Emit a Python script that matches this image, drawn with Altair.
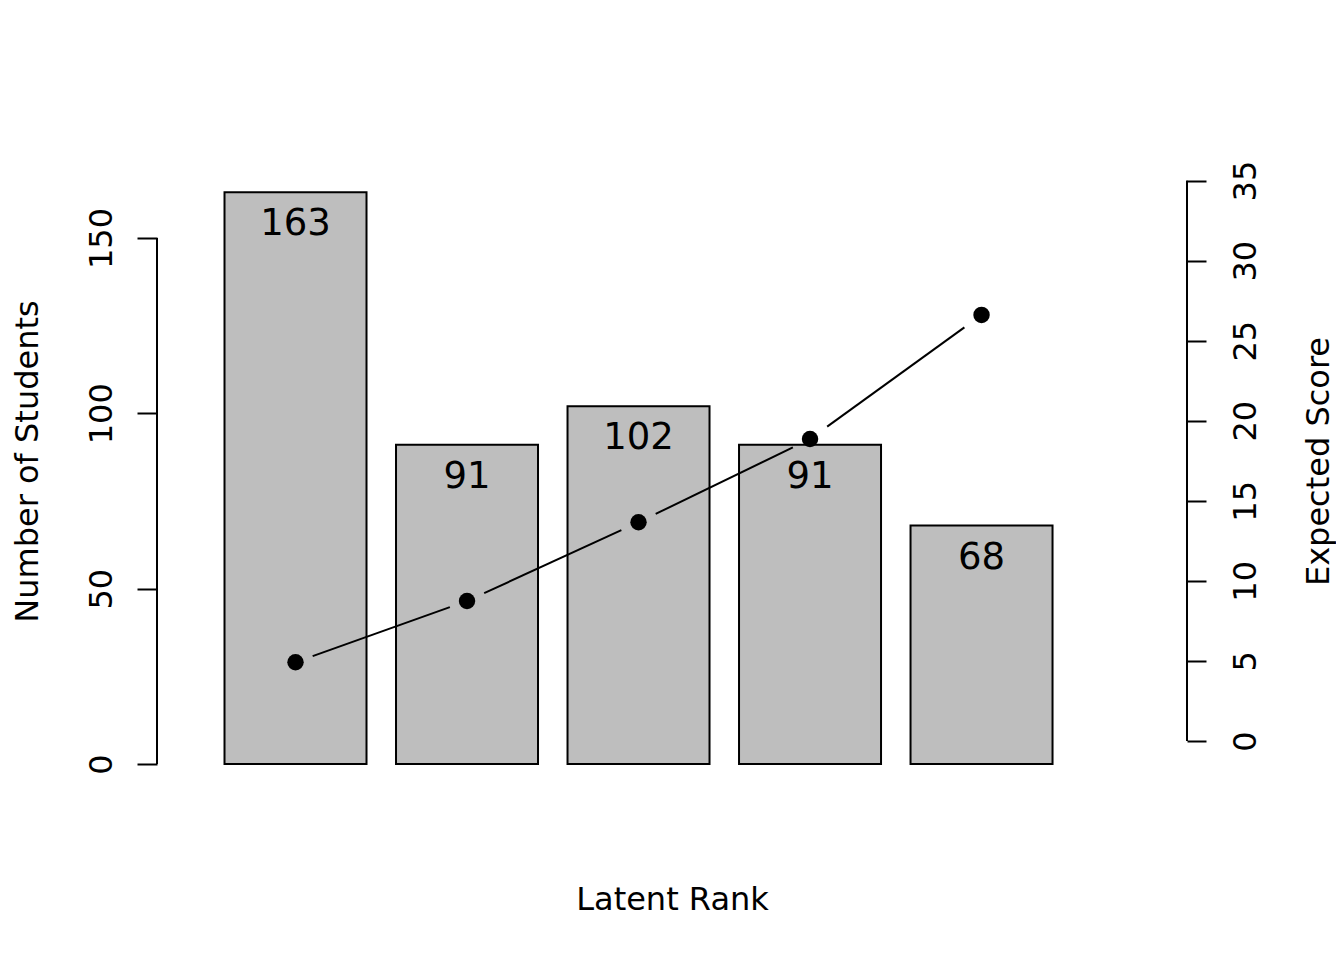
import altair as alt
import pandas as pd

ranks = [1, 2, 3, 4, 5]
students = [163, 91, 102, 91, 68]
expected_score = [4.92, 8.74, 13.66, 18.86, 26.61]
left_ticks = [0, 50, 100, 150]
right_ticks = [0, 5, 10, 15, 20, 25, 30, 35]

df = pd.DataFrame({"rank": ranks, "students": students, "score": expected_score})

FONT = "DejaVu Sans"
W, H = 1030, 606
FS = 32
GAP = 0.1  # fraction of each segment left blank next to a point (R type="b")

xscale = alt.Scale(domain=[0.1924, 6.198], nice=False, zero=False, padding=0)
lscale = alt.Scale(domain=[0, 172.8], nice=False, zero=False)
rscale = alt.Scale(domain=[-1.437, 36.41], nice=False, zero=False)

base = alt.Chart(df)

x_axis = alt.Axis(labels=False, ticks=False, domain=False, grid=False,
                  title="Latent Rank", titleFont=FONT, titleFontSize=FS,
                  titleFontWeight="normal", titleColor="black",
                  titleBaseline="alphabetic", titleY=145, titleX=W / 2,
                  titleAlign="center")

left_axis = alt.Axis(values=left_ticks, domain=False, grid=False, tickSize=20,
                     tickWidth=2, tickColor="black", labelFont=FONT,
                     labelFontSize=FS, labelColor="black", labelAngle=270,
                     labelAlign="center", labelBaseline="alphabetic",
                     labelPadding=26, title="Number of Students",
                     titleFont=FONT, titleFontSize=FS, titleFontWeight="normal",
                     titleColor="black", titleAngle=270, titleAlign="center",
                     titleBaseline="alphabetic", titleX=-120, titleY=H / 2)

right_axis = alt.Axis(orient="right", values=right_ticks, domain=False, grid=False,
                      tickSize=19, tickWidth=2, tickColor="black", labelFont=FONT,
                      labelFontSize=FS, labelColor="black", labelAngle=270,
                      labelAlign="center", labelBaseline="alphabetic",
                      labelPadding=49, title="Expected Score",
                      titleFont=FONT, titleFontSize=FS, titleFontWeight="normal",
                      titleColor="black", titleAngle=270, titleAlign="center",
                      titleBaseline="alphabetic", titleX=141, titleY=H / 2)

X = alt.X("rank:Q", scale=xscale, axis=x_axis)

bars = base.mark_bar(size=142, fill="#BEBEBE", stroke="black", strokeWidth=2).encode(
    x=X,
    y=alt.Y("students:Q", scale=lscale, axis=left_axis),
)
labels = base.mark_text(font=FONT, fontSize=37, color="black", baseline="alphabetic",
                        align="center", dy=43).encode(
    x=X,
    y=alt.Y("students:Q", scale=lscale, axis=left_axis),
    text="students:Q",
)
left_rule = alt.Chart(pd.DataFrame({"lo": [left_ticks[0]], "hi": [left_ticks[-1]]})).mark_rule(
    color="black", strokeWidth=2).encode(
    x=alt.value(0),
    y=alt.Y("lo:Q", scale=lscale, axis=left_axis),
    y2="hi:Q",
)
left = alt.layer(bars, labels, left_rule)

segments = base.transform_window(
    next_rank="lead(rank)", next_score="lead(score)", sort=[alt.SortField("rank")]
).transform_filter(
    "isValid(datum.next_rank)"
).transform_calculate(
    xa=f"datum.rank + {GAP} * (datum.next_rank - datum.rank)",
    xb=f"datum.next_rank - {GAP} * (datum.next_rank - datum.rank)",
    ya=f"datum.score + {GAP} * (datum.next_score - datum.score)",
    yb=f"datum.next_score - {GAP} * (datum.next_score - datum.score)",
).mark_rule(color="black", strokeWidth=2).encode(
    x=alt.X("xa:Q", scale=xscale, axis=x_axis),
    x2="xb:Q",
    y=alt.Y("ya:Q", scale=rscale, axis=right_axis),
    y2="yb:Q",
)
points = base.mark_circle(color="black", size=270, opacity=1).encode(
    x=X,
    y=alt.Y("score:Q", scale=rscale, axis=right_axis),
)
right_rule = alt.Chart(pd.DataFrame({"lo": [right_ticks[0]], "hi": [right_ticks[-1]]})).mark_rule(
    color="black", strokeWidth=2).encode(
    x=alt.value(W),
    y=alt.Y("lo:Q", scale=rscale, axis=right_axis),
    y2="hi:Q",
)
right = alt.layer(segments, points, right_rule)

chart = alt.layer(left, right).resolve_scale(y="independent").properties(
    width=W, height=H,
    autosize=alt.AutoSizeParams(type="none"),
    padding={"left": 149, "top": 150, "right": 149, "bottom": 180},
    background="white",
).configure_view(stroke=None)

chart.save("out.html", embed_options={"renderer": "svg", "actions": False})
